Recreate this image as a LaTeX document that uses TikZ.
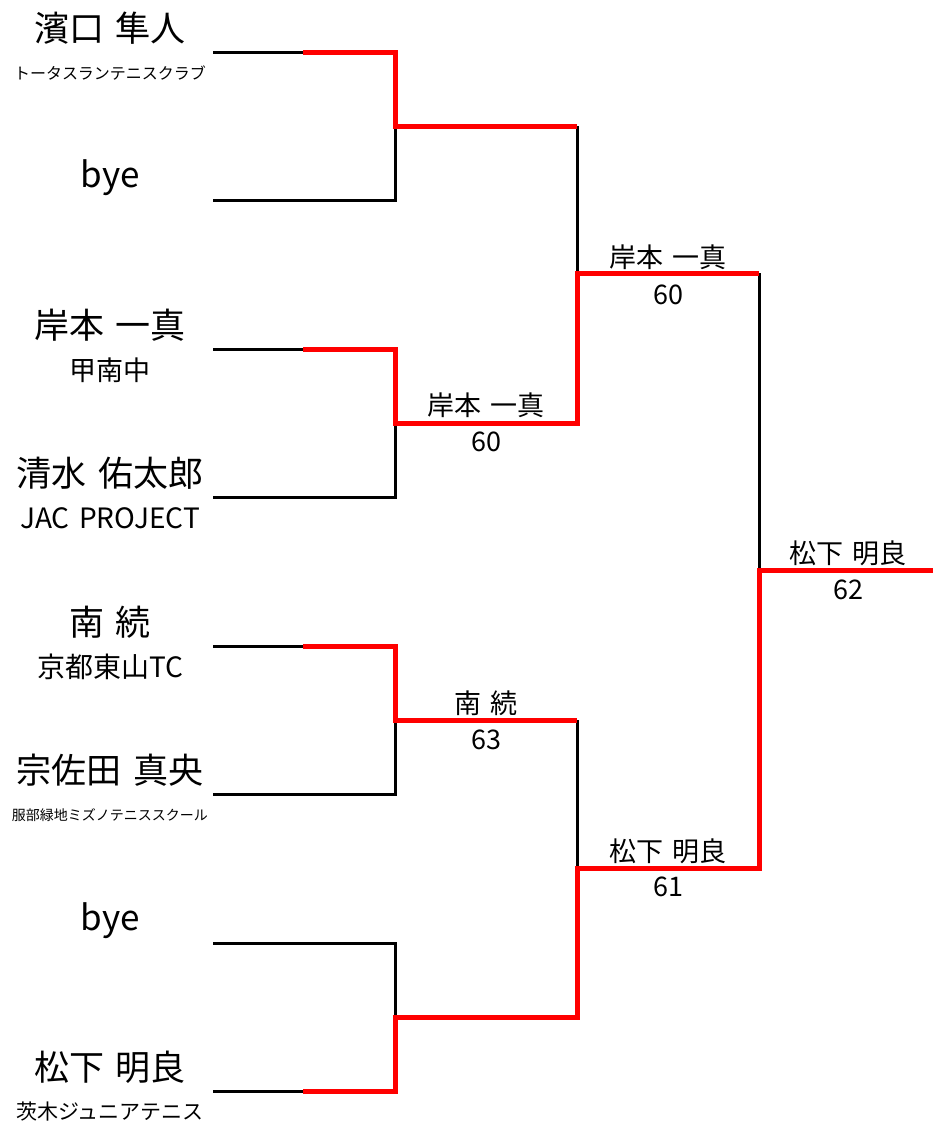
\documentclass[tikz,border=0pt]{standalone}
\usepackage{fontspec}
\setmainfont[WordSpace=1.5]{Noto Sans CJK JP}
\usepackage{tikz}

\begin{document}
\begin{tikzpicture}[x=1pt, y=-1pt, line join=miter]
    \pgfmathsetmacro{\namex}{110}

    \tikzset{%
      loser/.style   = {line width=3pt, draw=black},
      winner/.style  = {line width=5pt, draw=red},
      namelabel/.style   = {inner sep=0pt, font=\fontsize{35}{37}\selectfont},
      clublabel/.style   = {inner sep=0pt},
      resultlabel/.style = {inner sep=0pt, font=\fontsize{27}{29}\selectfont}
    }
    \useasboundingbox (0,0) rectangle (933,1125);

    % player slots
    \foreach \n/\y in {1/52, 2/200, 3/349, 4/497, 5/646, 6/794, 7/943, 8/1091}{
      \coordinate (s\n) at (213,\y);
      \coordinate (m\n) at (303,\y);
      \coordinate (e\n) at (395,\y);
    }
    % first round joins
    \foreach \k/\y in {1/126, 2/423, 3/720, 4/1017}{
      \coordinate (a\k) at (395,\y);
      \coordinate (b\k) at (577,\y);
    }
    % second round and final joins
    \coordinate (c1) at (577,273);
    \coordinate (d1) at (759,273);
    \coordinate (c2) at (577,868);
    \coordinate (d2) at (759,868);
    \coordinate (f)  at (759,570);
    \coordinate (g)  at (933,570);

    % player names and clubs
    \foreach \n/\y/\name/\csize/\club in {%
        1/52/{濱口 隼人}/16/{トータスランテニスクラブ},
        3/349/{岸本 一真}/27/{甲南中},
        4/497/{清水 佑太郎}/28/{JAC PROJECT},
        5/646/{南 続}/28/{京都東山TC},
        6/794/{宗佐田 真央}/14/{服部緑地ミズノテニススクール},
        8/1091/{松下 明良}/21/{茨木ジュニアテニス}%
    }{
      \node[namelabel] (p\n) at (\namex,\y-24) {\name};
      \node[clublabel, font=\fontsize{\csize}{\csize}\selectfont] (t\n) at (\namex,\y+21) {\club};
    }
    \node[namelabel] (p2) at (\namex,178) {bye};
    \node[namelabel] (p7) at (\namex,921) {bye};

    % results
    \node[resultlabel] (w1) at (486,405) {岸本 一真};
    \node[resultlabel] (r1) at (486,442) {60};
    \node[resultlabel] (w2) at (486,703) {南 続};
    \node[resultlabel] (r2) at (486,740) {63};
    \node[resultlabel] (w3) at (668,257) {岸本 一真};
    \node[resultlabel] (r3) at (668,295) {60};
    \node[resultlabel] (w4) at (668,851) {松下 明良};
    \node[resultlabel] (r4) at (668,887) {61};
    \node[resultlabel] (w5) at (848,553) {松下 明良};
    \node[resultlabel] (r5) at (848,590) {62};

    % losing lines
    \draw[loser] (s1) -- (m1);
    \draw[loser] (s2) -- (e2) -- (a1);
    \draw[loser] (s3) -- (m3);
    \draw[loser] (s4) -- (e4) -- (a2);
    \draw[loser] (s5) -- (m5);
    \draw[loser] (s6) -- (e6) -- (a3);
    \draw[loser] (s7) -- (e7) -- (a4);
    \draw[loser] (s8) -- (m8);
    \draw[loser] (b1) -- (c1);
    \draw[loser] (b3) -- (c2);
    \draw[loser] (d1) -- (f);

    % winning lines
    \draw[winner] (m1) -- (e1) -- (a1) -- (b1);
    \draw[winner] (m3) -- (e3) -- (a2) -- (b2) -- (c1) -- (d1);
    \draw[winner] (m5) -- (e5) -- (a3) -- (b3);
    \draw[winner] (m8) -- (e8) -- (a4) -- (b4) -- (c2) -- (d2) -- (f) -- (g);
\end{tikzpicture}
\end{document}
